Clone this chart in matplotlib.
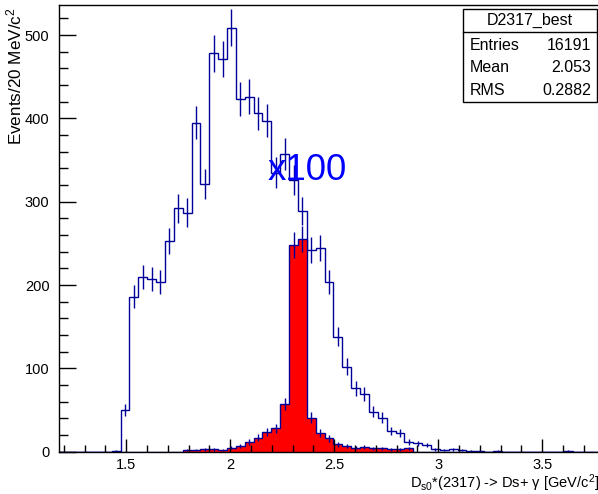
import numpy as np
import matplotlib
matplotlib.use("Agg")
from matplotlib import pyplot as plt
from matplotlib.patches import Rectangle
from matplotlib.lines import Line2D
from matplotlib.ticker import MultipleLocator

plt.rcParams['font.family'] = ['Liberation Sans', 'DejaVu Sans']
plt.rcParams['mathtext.fontset'] = 'custom'
plt.rcParams['mathtext.rm'] = 'Liberation Sans'
plt.rcParams['mathtext.it'] = 'Liberation Sans:italic'

# histogram binning (61 bins over the frame range)
x_lo, x_hi, n_bins = 1.175, 3.775, 61

# all candidates, counts per bin
all_counts = [0, 0, 0, 0, 0, 0, 1, 50, 186, 210,
              207, 204, 253, 292, 287, 395, 321, 478, 471, 509,
              423, 426, 406, 397, 335, 357, 326, 289, 242, 244,
              204, 138, 102, 76, 69, 48, 41, 25, 23, 12,
              10, 8, 3, 2, 3, 2, 1, 1, 0, 1,
              0, 0, 0, 0, 0, 0, 0, 1, 0, 0, 0]

# best candidate (scaled x100), counts per bin
best_counts = [0, 0, 0, 0, 0, 0, 0, 0, 0, 0,
               0, 0, 0, 0, 2, 2, 3, 3, 2, 5,
               7, 12, 17, 24, 28, 57, 248, 255, 41, 23,
               16, 9, 7, 5, 6, 4, 4, 3, 3, 4,
               0, 0, 0, 0, 0, 0, 0, 0, 0, 0,
               0, 0, 0, 0, 0, 0, 0, 0, 0, 0, 0]

stats_title = "D2317_best"
stats_names = ["Entries", "Mean", "RMS"]
stats_values = ["16191", "2.053", "0.2882"]

W, H = 598, 494
fig = plt.figure(figsize=(W / 100, H / 100), dpi=100)
ax = fig.add_axes([58.5 / W, 1 - 451.7 / H, 541 / W, 446.7 / H])

edges = np.linspace(x_lo, x_hi, n_bins + 1)
centers = 0.5 * (edges[1:] + edges[:-1])
hcol = '#000099'

all_arr = np.asarray(all_counts, float)
best_arr = np.asarray(best_counts, float)

ax.stairs(all_arr, edges, color=hcol, linewidth=1.0)
m = all_arr > 0
ax.errorbar(centers[m], all_arr[m], yerr=np.sqrt(all_arr[m]), fmt='none',
            ecolor=hcol, elinewidth=1.0)

ax.stairs(best_arr, edges, fill=True, facecolor='#ff0000', edgecolor=hcol, linewidth=1.0)
m = best_arr > 0
ax.errorbar(centers[m], best_arr[m], yerr=np.sqrt(best_arr[m]), fmt='none',
            ecolor=hcol, elinewidth=1.0)

ax.text(2.18, 326, "x100", color='#0000ff', fontsize=26.5, ha='left', va='baseline')

ax.set_xlim(x_lo, x_hi)
ax.set_ylim(0, 536)
ax.xaxis.set_major_locator(MultipleLocator(0.5))
ax.xaxis.set_minor_locator(MultipleLocator(0.1))
ax.yaxis.set_major_locator(MultipleLocator(100))
ax.yaxis.set_minor_locator(MultipleLocator(20))
ax.xaxis.set_major_formatter(matplotlib.ticker.FuncFormatter(lambda v, p: f"{v:g}"))
ax.tick_params(axis='x', which='major', direction='in', length=9.5, width=1, pad=4.5, labelsize=10.5)
ax.tick_params(axis='x', which='minor', direction='in', length=5, width=1)
ax.tick_params(axis='y', which='major', direction='in', length=12, width=1, pad=6.5, labelsize=10.5)
ax.tick_params(axis='y', which='minor', direction='in', length=6.5, width=1)
ax.tick_params(top=False, right=False, which='both')
for s in ax.spines.values():
    s.set_linewidth(1)

ax.set_xlabel(r"D$_{\mathregular{s0}}$*(2317) -> Ds+ γ [GeV/c$^{\mathregular{2}}$]",
              loc='right', fontsize=10.5)
ax.xaxis.set_label_coords(1.0, -0.0813)
ax.xaxis.label.set_va('baseline')
ax.set_ylabel(r"Events/20 MeV/c$^{\mathregular{2}}$", loc='top', fontsize=12.3)
ax.yaxis.set_label_coords(-0.068, 0.995)
ax.yaxis.label.set_va('baseline')

# stats box
def fx(px):
    return px / W

def fy(py):
    return 1 - py / H

fig.add_artist(Rectangle((fx(463), fy(102)), fx(597) - fx(463), fy(9) - fy(102),
                         transform=fig.transFigure, facecolor='white',
                         edgecolor='black', linewidth=1))
fig.add_artist(Line2D([fx(463), fx(597)], [fy(32), fy(32)], transform=fig.transFigure,
                      color='black', linewidth=1))
fig.text(fx(530), fy(20.5), stats_title, ha='center', va='center', fontsize=11.5)
for i, (n, v) in enumerate(zip(stats_names, stats_values)):
    yy = fy(45 + i * 22.5)
    fig.text(fx(470), yy, n, ha='left', va='center', fontsize=11.5)
    fig.text(fx(591), yy, v, ha='right', va='center', fontsize=11.5)

fig.savefig("out.png", dpi=100)
